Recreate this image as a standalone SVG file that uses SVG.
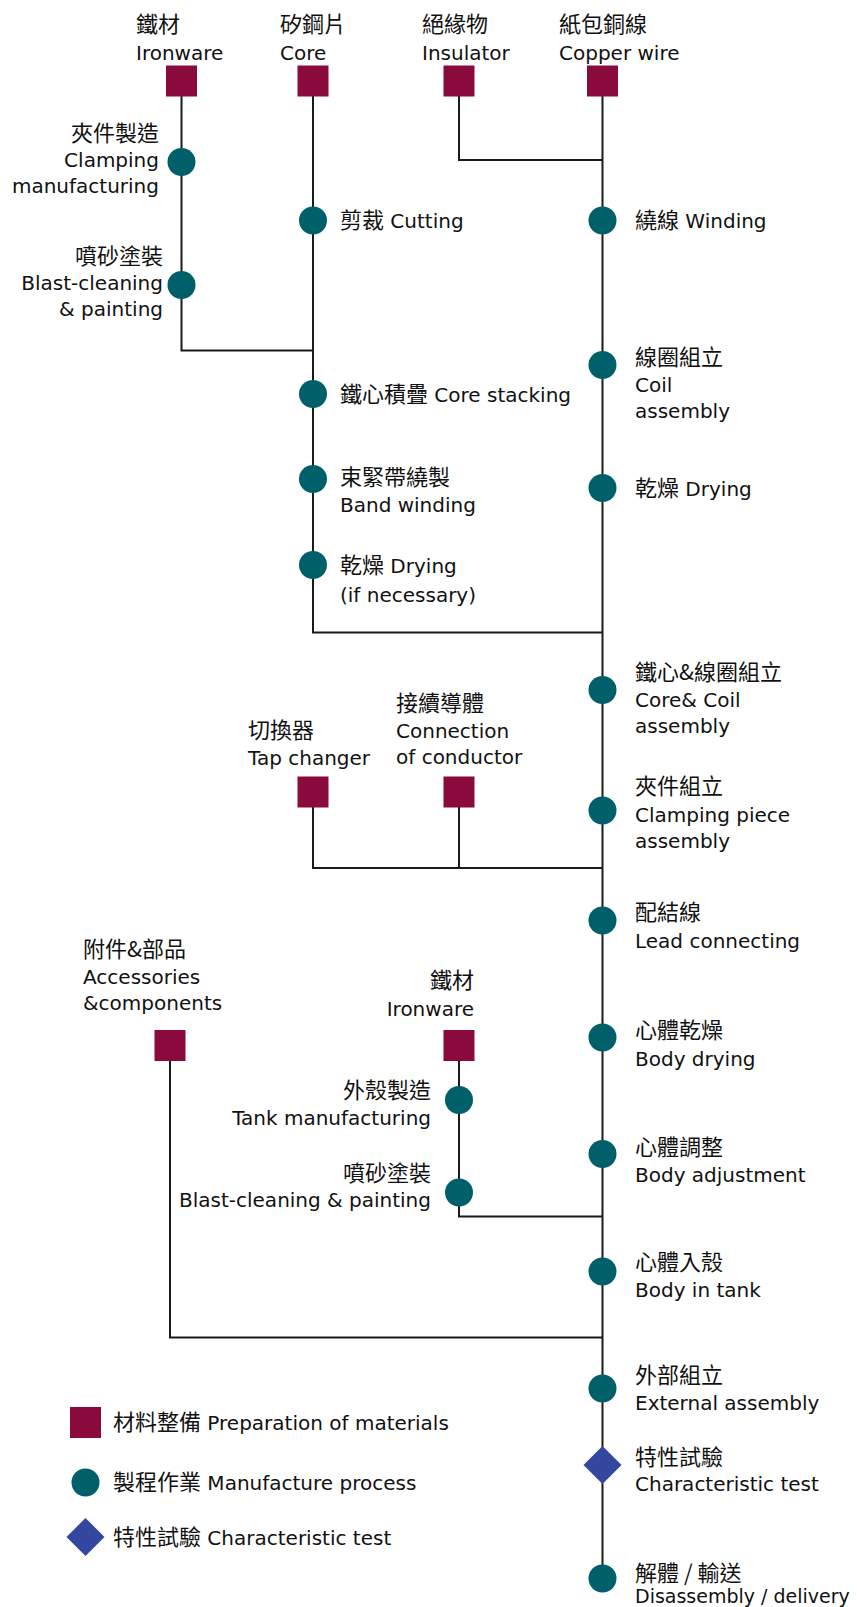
<svg xmlns="http://www.w3.org/2000/svg" width="857" height="1607" viewBox="0 0 857 1607">
<style>
.t{font-family:"DejaVu Sans","Noto Sans CJK TC",sans-serif;font-size:20px;fill:#111}
.c{font-family:"Noto Sans CJK TC","Noto Sans CJK SC",sans-serif;font-size:22px}
.e{text-anchor:end}
.sq{fill:#8a0a3e}
.ci{fill:#00606a}
.di{fill:#33479e}
.ln{fill:none;stroke:#1a1a1a;stroke-width:2}
</style>
<rect width="857" height="1607" fill="#fff"/>
<g id="connectors" class="ln">
<path d="M181.5 96V350.5H313"/>
<path d="M313 96V632.5H602.5"/>
<path d="M459 96V160H602.5"/>
<path d="M602.5 96V1578"/>
<path d="M313 807V868H602.5"/>
<path d="M459 807V868"/>
<path d="M459 1060V1216.5H602.5"/>
<path d="M170 1060V1337.5H602.5"/>
</g>
<g id="n-ironware">
<rect class="sq" x="166" y="65.5" width="31" height="31"/>
<text class="t" x="136" y="32"><tspan class="c">鐵材</tspan><tspan x="136" y="60">Ironware</tspan></text>
</g>
<g id="n-core">
<rect class="sq" x="297.5" y="65.5" width="31" height="31"/>
<text class="t" x="280" y="32"><tspan class="c">矽鋼片</tspan><tspan x="280" y="60">Core</tspan></text>
</g>
<g id="n-insulator">
<rect class="sq" x="443.5" y="65.5" width="31" height="31"/>
<text class="t" x="422" y="32"><tspan class="c">絕緣物</tspan><tspan x="422" y="60">Insulator</tspan></text>
</g>
<g id="n-copper">
<rect class="sq" x="587" y="65.5" width="31" height="31"/>
<text class="t" x="559" y="32"><tspan class="c">紙包銅線</tspan><tspan x="559" y="60">Copper wire</tspan></text>
</g>
<g id="n-clamping-mfg">
<circle class="ci" cx="181.5" cy="162" r="14"/>
<text class="t e" x="159" y="141"><tspan class="c">夾件製造</tspan><tspan x="159" y="167">Clamping</tspan><tspan x="159" y="193">manufacturing</tspan></text>
</g>
<g id="n-blast1">
<circle class="ci" cx="181.5" cy="285" r="14"/>
<text class="t e" x="163" y="264"><tspan class="c">噴砂塗裝</tspan><tspan x="163" y="290">Blast-cleaning</tspan><tspan x="163" y="316">&amp; painting</tspan></text>
</g>
<g id="n-cutting">
<circle class="ci" cx="313" cy="220.5" r="14"/>
<text class="t" x="340" y="228"><tspan class="c">剪裁</tspan> Cutting</text>
</g>
<g id="n-winding">
<circle class="ci" cx="602.5" cy="220.5" r="14"/>
<text class="t" x="635" y="228"><tspan class="c">繞線</tspan> Winding</text>
</g>
<g id="n-core-stacking">
<circle class="ci" cx="313" cy="394" r="14"/>
<text class="t" x="340" y="402"><tspan class="c">鐵心積疊</tspan> Core stacking</text>
</g>
<g id="n-band-winding">
<circle class="ci" cx="313" cy="479" r="14"/>
<text class="t" x="340" y="485"><tspan class="c">束緊帶繞製</tspan><tspan x="340" y="512">Band winding</tspan></text>
</g>
<g id="n-drying1">
<circle class="ci" cx="313" cy="565" r="14"/>
<text class="t" x="340" y="573"><tspan class="c">乾燥</tspan> Drying<tspan x="340" y="602">(if necessary)</tspan></text>
</g>
<g id="n-coil-assembly">
<circle class="ci" cx="602.5" cy="365" r="14"/>
<text class="t" x="635" y="365"><tspan class="c">線圈組立</tspan><tspan x="635" y="392">Coil</tspan><tspan x="635" y="418">assembly</tspan></text>
</g>
<g id="n-drying2">
<circle class="ci" cx="602.5" cy="488" r="14"/>
<text class="t" x="635" y="496"><tspan class="c">乾燥</tspan> Drying</text>
</g>
<g id="n-core-coil">
<circle class="ci" cx="602.5" cy="690" r="14"/>
<text class="t" x="635" y="680"><tspan class="c">鐵心&amp;線圈組立</tspan><tspan x="635" y="707">Core&amp; Coil</tspan><tspan x="635" y="733">assembly</tspan></text>
</g>
<g id="n-tap-changer">
<rect class="sq" x="297.5" y="776.5" width="31" height="31"/>
<text class="t" x="248" y="738"><tspan class="c">切換器</tspan><tspan x="248" y="765">Tap changer</tspan></text>
</g>
<g id="n-connection">
<rect class="sq" x="443.5" y="776.5" width="31" height="31"/>
<text class="t" x="396" y="711"><tspan class="c">接續導體</tspan><tspan x="396" y="738">Connection</tspan><tspan x="396" y="764">of conductor</tspan></text>
</g>
<g id="n-clamping-assembly">
<circle class="ci" cx="602.5" cy="810.5" r="14"/>
<text class="t" x="635" y="794"><tspan class="c">夾件組立</tspan><tspan x="635" y="822">Clamping piece</tspan><tspan x="635" y="848">assembly</tspan></text>
</g>
<g id="n-lead">
<circle class="ci" cx="602.5" cy="920.5" r="14"/>
<text class="t" x="635" y="920"><tspan class="c">配結線</tspan><tspan x="635" y="948">Lead connecting</tspan></text>
</g>
<g id="n-accessories">
<rect class="sq" x="154.5" y="1030" width="31" height="31"/>
<text class="t" x="83" y="957"><tspan class="c">附件&amp;部品</tspan><tspan x="83" y="984">Accessories</tspan><tspan x="83" y="1010">&amp;components</tspan></text>
</g>
<g id="n-ironware2">
<rect class="sq" x="443.5" y="1030" width="31" height="31"/>
<text class="t e" x="474" y="988"><tspan class="c">鐵材</tspan><tspan x="474" y="1016">Ironware</tspan></text>
</g>
<g id="n-tank">
<circle class="ci" cx="459" cy="1100" r="14"/>
<text class="t e" x="431" y="1098"><tspan class="c">外殼製造</tspan><tspan x="431" y="1125">Tank manufacturing</tspan></text>
</g>
<g id="n-blast2">
<circle class="ci" cx="459" cy="1192.5" r="14"/>
<text class="t e" x="431" y="1181"><tspan class="c">噴砂塗裝</tspan><tspan x="431" y="1207">Blast-cleaning &amp; painting</tspan></text>
</g>
<g id="n-body-drying">
<circle class="ci" cx="602.5" cy="1037.5" r="14"/>
<text class="t" x="635" y="1038"><tspan class="c">心體乾燥</tspan><tspan x="635" y="1066">Body drying</tspan></text>
</g>
<g id="n-body-adjust">
<circle class="ci" cx="602.5" cy="1154" r="14"/>
<text class="t" x="635" y="1155"><tspan class="c">心體調整</tspan><tspan x="635" y="1182">Body adjustment</tspan></text>
</g>
<g id="n-body-tank">
<circle class="ci" cx="602.5" cy="1271.5" r="14"/>
<text class="t" x="635" y="1270"><tspan class="c">心體入殼</tspan><tspan x="635" y="1297">Body in tank</tspan></text>
</g>
<g id="n-external">
<circle class="ci" cx="602.5" cy="1388.5" r="14"/>
<text class="t" x="635" y="1383"><tspan class="c">外部組立</tspan><tspan x="635" y="1410">External assembly</tspan></text>
</g>
<g id="n-test">
<polygon class="di" points="602.5,1446 621.5,1465 602.5,1484 583.5,1465"/>
<text class="t" x="635" y="1465"><tspan class="c">特性試驗</tspan><tspan x="635" y="1491">Characteristic test</tspan></text>
</g>
<g id="n-delivery">
<circle class="ci" cx="602.5" cy="1578.5" r="14"/>
<text class="t" x="635" y="1581"><tspan class="c">解體 / 輸送</tspan><tspan x="635" y="1603" font-size="19">Disassembly / delivery</tspan></text>
</g>
<g id="legend">
<rect class="sq" x="70" y="1407" width="31" height="31"/>
<text class="t" x="113" y="1430"><tspan class="c">材料整備</tspan> Preparation of materials</text>
<circle class="ci" cx="85.5" cy="1482.5" r="14"/>
<text class="t" x="113" y="1490"><tspan class="c">製程作業</tspan> Manufacture process</text>
<polygon class="di" points="85.5,1518 104.5,1537 85.5,1556 66.5,1537"/>
<text class="t" x="113" y="1545"><tspan class="c">特性試驗</tspan> Characteristic test</text>
</g>
</svg>
